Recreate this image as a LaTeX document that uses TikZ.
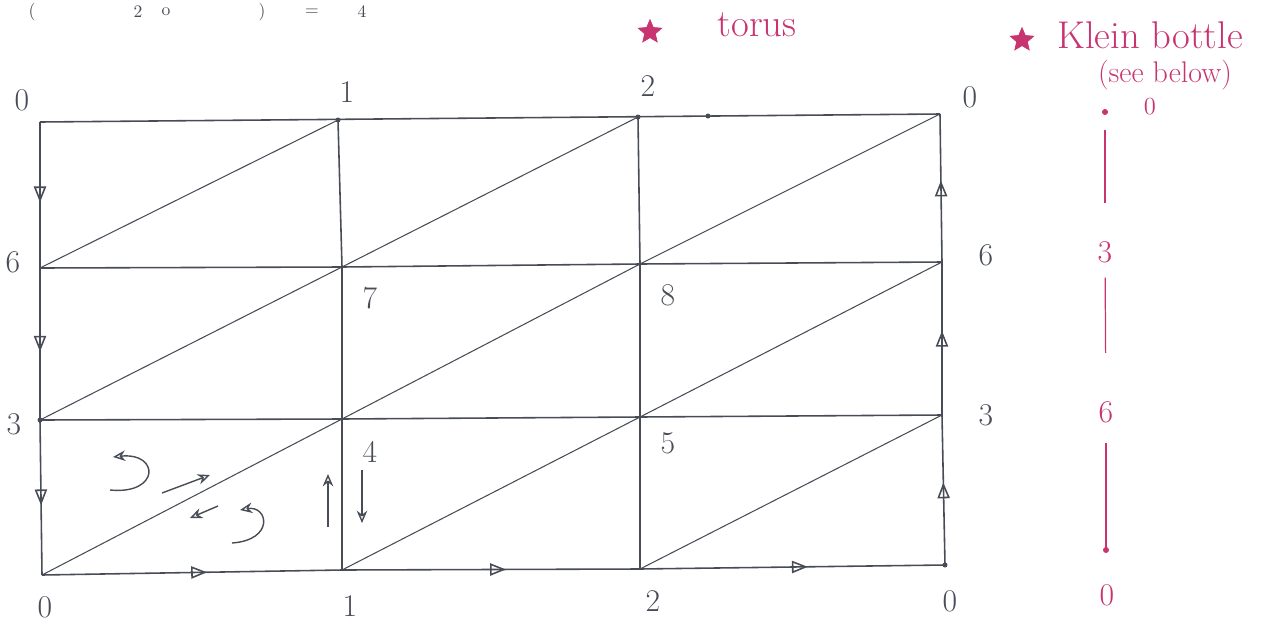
\documentclass[tikz,border=0pt]{standalone}
\usepackage{xcolor}
\usetikzlibrary{arrows.meta,calc,decorations.markings,shapes.geometric}

\definecolor{pencil}{RGB}{72,76,86}
\definecolor{pinkink}{RGB}{200,52,112}

\tikzset{
  edge/.style={draw=pencil, line width=0.9pt},
  diag/.style={draw=pencil, line width=0.6pt},
  lbl/.style={text=pencil, font=\fontsize{18}{20}\selectfont},
  toplbl/.style={text=pencil, font=\fontsize{10}{11}\selectfont, inner sep=0pt},
  pinklbl/.style={text=pinkink, font=\fontsize{18}{20}\selectfont},
  midarrow/.style={postaction={decorate},
    decoration={markings, mark=at position 0.55 with {\arrow[pencil]{Triangle[open,length=9pt,width=7pt]}}}},
  handarrow/.style={draw=pencil, line width=0.8pt, -{Stealth[length=7pt,width=6pt,open]}},
  pinkstar/.style={star, star points=5, star point ratio=2.2, fill=pinkink, draw=pinkink, inner sep=0pt, minimum size=14pt}
}

\begin{document}
\begin{tikzpicture}[x=0.02cm, y=-0.02cm]
\useasboundingbox (0,0) rectangle (1276,623);

% line at the very top
\node[toplbl] (topa) at (32,12) {(};
\node[toplbl] (topb) at (138,12) {2};
\node[toplbl] (topc) at (166,12) {o};
\node[toplbl] (topd) at (262,12) {)};
\node[toplbl] (tope) at (312,12) {=};
\node[toplbl] (topf) at (362,12) {4};

% grid points
\coordinate (t0) at (40,122);  \coordinate (t1) at (338,120);
\coordinate (t2) at (638,117); \coordinate (t3) at (940,114);
\coordinate (m0) at (40,268);  \coordinate (m1) at (342,267);
\coordinate (m2) at (640,264); \coordinate (m3) at (942,262);
\coordinate (n0) at (40,420);  \coordinate (n1) at (342,419);
\coordinate (n2) at (640,417); \coordinate (n3) at (942,415);
\coordinate (b0) at (42,575);  \coordinate (b1) at (342,570);
\coordinate (b2) at (640,569); \coordinate (b3) at (945,565);

% border
\draw[edge] (t0) -- (t3);
\draw[edge, midarrow] (t0) -- (m0);
\draw[edge, midarrow] (m0) -- (n0);
\draw[edge, midarrow] (n0) -- (b0);
\draw[edge, midarrow] (b3) -- (n3);
\draw[edge, midarrow] (n3) -- (m3);
\draw[edge, midarrow] (m3) -- (t3);
\draw[edge, midarrow] (b0) -- (b1);
\draw[edge, midarrow] (b1) -- (b2);
\draw[edge, midarrow] (b2) -- (b3);

% inner lines
\draw[edge] (t1) -- (m1) -- (n1) -- (b1);
\draw[edge] (t2) -- (m2) -- (n2) -- (b2);
\draw[edge] (m0) -- (m1) -- (m2) -- (m3);
\draw[edge] (n0) -- (n1) -- (n2) -- (n3);

% diagonals
\draw[diag] (m0) -- (t1);
\draw[diag] (m1) -- (t2);
\draw[diag] (m2) -- (t3);
\draw[diag] (n0) -- (m1);
\draw[diag] (n1) -- (m2);
\draw[diag] (n2) -- (m3);
\draw[diag] (b0) -- (n1);
\draw[diag] (b1) -- (n2);
\draw[diag] (b2) -- (n3);

% dots
\fill[pencil] (t1) circle (2.5);
\fill[pencil] (t2) circle (2.5);
\fill[pencil] (708,116) circle (2.5);
\fill[pencil] (n0) circle (2.5);
\fill[pencil] (b3) circle (2.5);

% vertex labels
\node[lbl] (l0a) at (22,100) {0};
\node[lbl] (l1a) at (347,92) {1};
\node[lbl] (l2a) at (648,86) {2};
\node[lbl] (l0b) at (970,97) {0};
\node[lbl] (l6a) at (13,262) {6};
\node[lbl] (l3a) at (14,424) {3};
\node[lbl] (l6b) at (986,255) {6};
\node[lbl] (l3b) at (986,415) {3};
\node[lbl] (l0c) at (45,607) {0};
\node[lbl] (l1b) at (350,606) {1};
\node[lbl] (l2b) at (653,601) {2};
\node[lbl] (l0d) at (950,601) {0};
\node[lbl] (l7) at (370,298) {7};
\node[lbl] (l8) at (668,295) {8};
\node[lbl] (l4) at (370,452) {4};
\node[lbl] (l5) at (668,443) {5};

% orientation marks
\draw[handarrow] (110,490) .. controls (160,495) and (160,452) .. (113,457);
\draw[handarrow] (232,543) .. controls (275,540) and (268,505) .. (240,510);
\draw[handarrow] (162,493) -- (210,475);
\draw[handarrow] (218,506) -- (190,518);
\draw[handarrow] (328,527) -- (328,474);
\draw[handarrow] (362,470) -- (362,523);

% torus / klein bottle
\node[pinkstar] (s1) at (650,32) {};
\node[pinklbl, font=\fontsize{22}{24}\selectfont] (torus) at (757,25) {torus};
\node[pinkstar] (s2) at (1022,40) {};
\node[pinklbl, font=\fontsize{22}{24}\selectfont] (klein) at (1150,35) {Klein bottle};
\node[pinklbl, font=\fontsize{17}{19}\selectfont] (below) at (1165,75) {(see below)};

% the circle
\coordinate (kt) at (1105,112);
\coordinate (kb) at (1106,550);
\fill[pinkink] (kt) circle (3);
\node[pinklbl, font=\fontsize{14}{16}\selectfont] (k0a) at (1150,107) {0};
\node[pinklbl] (k3) at (1105,252) {3};
\node[pinklbl] (k6) at (1106,412) {6};
\node[pinklbl] (k0b) at (1107,595) {0};
\draw[pinkink, line width=0.7pt, shorten <=10pt, shorten >=18pt] (kt) -- (k3);
\draw[pinkink, line width=0.7pt, shorten <=5pt, shorten >=24pt] (k3) -- (k6);
\draw[pinkink, line width=0.7pt, shorten <=8pt] (k6) -- (kb);
\fill[pinkink] (kb) circle (3);
\end{tikzpicture}
\end{document}
